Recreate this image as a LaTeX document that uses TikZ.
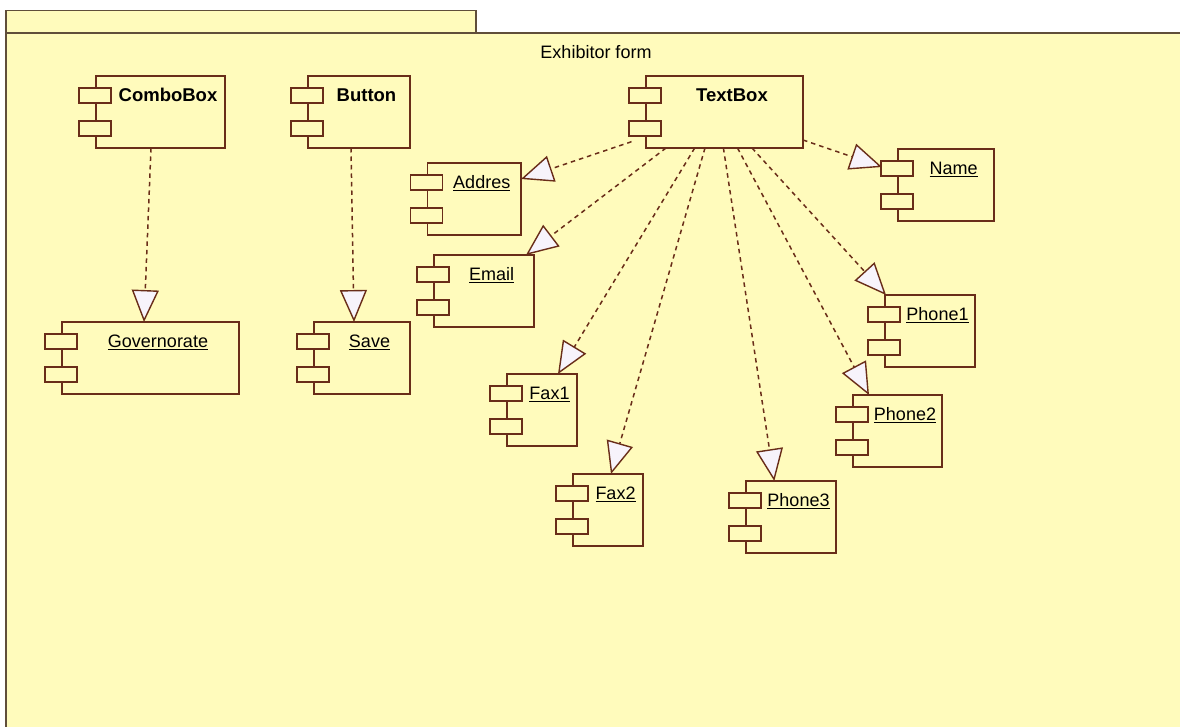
\documentclass[tikz,border=0pt]{standalone}
\usepackage{fontspec}
\setmainfont{Liberation Sans}
\usetikzlibrary{arrows.meta,calc}

\definecolor{pkgfill}{RGB}{255,251,188}
\definecolor{pkgline}{RGB}{96,78,58}
\definecolor{compline}{RGB}{105,45,25}
\definecolor{tipfill}{RGB}{247,243,251}

\tikzset{
  cbody/.style={draw=compline, fill=pkgfill, line width=1.9pt, rectangle,
                inner sep=0pt, outer sep=0pt, anchor=north west},
  cpart/.style={draw=compline, fill=pkgfill, line width=1.9pt},
  clabel/.style={anchor=base, inner sep=0pt, font=\fontsize{18}{20}\selectfont},
  cboldlabel/.style={anchor=base, inner sep=0pt, font=\fontsize{18.5}{20}\selectfont\bfseries},
  dep/.style={draw=compline, line width=1.5pt, dash pattern=on 4.5pt off 4pt,
              -{Triangle[length=32pt,width=27pt,fill=tipfill,line width=1.4pt]}},
}

% component: #1 name, #2 body left, #3 top, #4 body right, #5 label style, #6 label
\newcommand\umlcomp[6]{%
  \node[cbody, minimum width={#4-#2}, minimum height=72] (#1) at (#2,#3) {};
  \draw[cpart] ([xshift=-17pt,yshift=-12pt]#1.north west) rectangle ++(32,15);
  \draw[cpart] ([xshift=-17pt,yshift=-45pt]#1.north west) rectangle ++(32,15);
  \node[#5] (#1-label) at ({(#2+15+#4)/2},{#3+25.5}) {#6};
}

\begin{document}
\begin{tikzpicture}[x=1pt,y=-1pt]
\useasboundingbox (0,0) rectangle (1180,727);
\fill[white] (0,0) rectangle (1180,727);

% package frame: tab and body, open to the right and bottom
\fill[pkgfill] (6,33) rectangle (1180,727);
\draw[pkgline, line width=1.6pt, fill=pkgfill] (6,33) -- (6,10.5) -- (476,10.5) -- (476,33);
\draw[pkgline, line width=2pt] (6,727) -- (6,33) -- (1180,33);
\node[clabel] (pkgname) at (596,58.5) {Exhibitor form};

% components
\umlcomp{cb}{96}{76}{225}{cboldlabel}{ComboBox}
\umlcomp{bt}{308}{76}{410}{cboldlabel}{Button}
\umlcomp{tb}{646}{76}{803}{cboldlabel}{TextBox}
\umlcomp{gov}{62}{322}{239}{clabel}{\underline{Governorate}}
\umlcomp{sv}{314}{322}{410}{clabel}{\underline{Save}}
\umlcomp{ad}{427.5}{163}{521}{clabel}{\underline{Addres}}
\umlcomp{em}{434}{255}{534}{clabel}{\underline{Email}}
\umlcomp{nm}{898}{149}{994}{clabel}{\underline{Name}}
\umlcomp{pa}{885}{295}{975}{clabel}{\underline{Phone1}}
\umlcomp{pb}{853}{395}{942}{clabel}{\underline{Phone2}}
\umlcomp{fa}{507}{374}{577}{clabel}{\underline{Fax1}}
\umlcomp{fb}{573}{474}{643}{clabel}{\underline{Fax2}}
\umlcomp{pc}{746}{481}{836}{clabel}{\underline{Phone3}}

% dependencies
\draw[dep] ([xshift=55pt]cb.south west) -- ([xshift=82pt]gov.north west);
\draw[dep] ([xshift=43pt]bt.south west) -- ([xshift=40pt]sv.north west);
\draw[dep] ([xshift=-14.5pt,yshift=6.3pt]tb.south west) -- ([yshift=-16pt]ad.north east);
\draw[dep] ([xshift=20pt]tb.south west) -- ([xshift=-8pt]em.north east);
\draw[dep] ([xshift=48.7pt]tb.south west) -- ([xshift=51pt]fa.north west);
\draw[dep] ([xshift=59pt]tb.south west) -- ([xshift=38pt]fb.north west);
\draw[dep] ([xshift=77.4pt]tb.south west) -- ([xshift=28.3pt]pc.north west);
\draw[dep] ([xshift=91.5pt]tb.south west) -- ([xshift=16pt]pb.north west);
\draw[dep] ([xshift=106pt]tb.south west) -- ([xshift=1pt]pa.north west);
\draw[dep] ([yshift=8pt]tb.south east) -- ([xshift=-16pt,yshift=-18pt]nm.north west);
\end{tikzpicture}
\end{document}
